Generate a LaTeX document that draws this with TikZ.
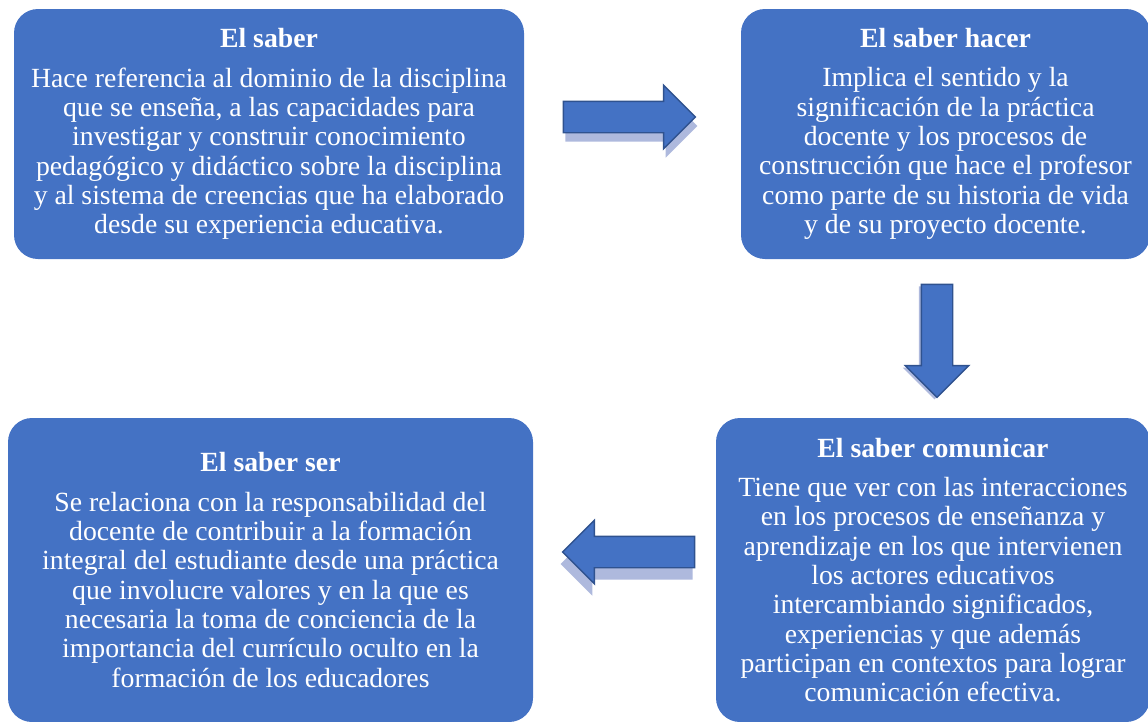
\documentclass[tikz,border=0pt]{standalone}
\usepackage{fontspec}
\setmainfont{Liberation Serif}
\usepackage{tikz}
\usetikzlibrary{shapes.arrows}

\definecolor{boxblue}{HTML}{4472C4}
\definecolor{edgeblue}{HTML}{2F528F}
\definecolor{shadeblue}{HTML}{AEB9DD}

\tikzset{
  saberbox/.style={rectangle,rounded corners=18pt,fill=boxblue,text=white,
    align=center,inner sep=0pt,font=\fontsize{20.8}{22}\selectfont},
  blockarrow/.style={single arrow,fill=boxblue,draw=edgeblue,line width=1.1pt,
    inner xsep=0pt,inner ysep=11.25pt,single arrow head extend=12pt},
  arrowshade/.style={blockarrow,fill=shadeblue,draw=none}
}

\begin{document}
\begin{tikzpicture}[x=0.75pt,y=-0.75pt]
  \useasboundingbox (0,0) rectangle (1148,721);

  \node[saberbox,minimum width=382.5pt,minimum height=187.5pt] (saber) at (269,134)
    {\textbf{El saber}\\[7.5pt]
     Hace referencia al dominio de la disciplina\\
     que se enseña, a las capacidades para\\
     investigar y construir conocimiento\\
     pedagógico y didáctico sobre la disciplina\\
     y al sistema de creencias que ha elaborado\\
     desde su experiencia educativa.};

  \node[saberbox,minimum width=306.75pt,minimum height=187.5pt] (hacer) at (945.5,134)
    {\textbf{El saber hacer}\\[7.5pt]
     Implica el sentido y la\\
     significación de la práctica\\
     docente y los procesos de\\
     construcción que hace el profesor\\
     como parte de su historia de vida\\
     y de su proyecto docente.};

  \node[saberbox,minimum width=325.5pt,minimum height=228pt] (comunicar) at (933,570)
    {\textbf{El saber comunicar}\\[7.5pt]
     Tiene que ver con las interacciones\\
     en los procesos de enseñanza y\\
     aprendizaje en los que intervienen\\
     los actores educativos\\
     intercambiando significados,\\
     experiencias y que además\\
     participan en contextos para lograr\\
     comunicación efectiva.};

  \node[saberbox,minimum width=393.75pt,minimum height=228pt] (ser) at (270.5,570)
    {\textbf{El saber ser}\\[7.5pt]
     Se relaciona con la responsabilidad del\\
     docente de contribuir a la formación\\
     integral del estudiante desde una práctica\\
     que involucre valores y en la que es\\
     necesaria la toma de conciencia de la\\
     importancia del currículo oculto en la\\
     formación de los educadores};

  % arrows between the boxes
  \node[arrowshade,minimum height=99pt] (rshade) at (623.5,126) {};
  \node[blockarrow,minimum height=99pt] (right) at (621.5,117) {};

  \node[arrowshade,minimum height=84.75pt,rotate=-90] (dshade) at (934.5,335) {};
  \node[blockarrow,minimum height=84.75pt,rotate=-90] (down) at (937,333) {};

  \node[arrowshade,minimum height=99pt,rotate=180] (lshade) at (634.5,564) {};
  \node[blockarrow,minimum height=99pt,rotate=180] (left) at (636.5,552) {};
\end{tikzpicture}
\end{document}
